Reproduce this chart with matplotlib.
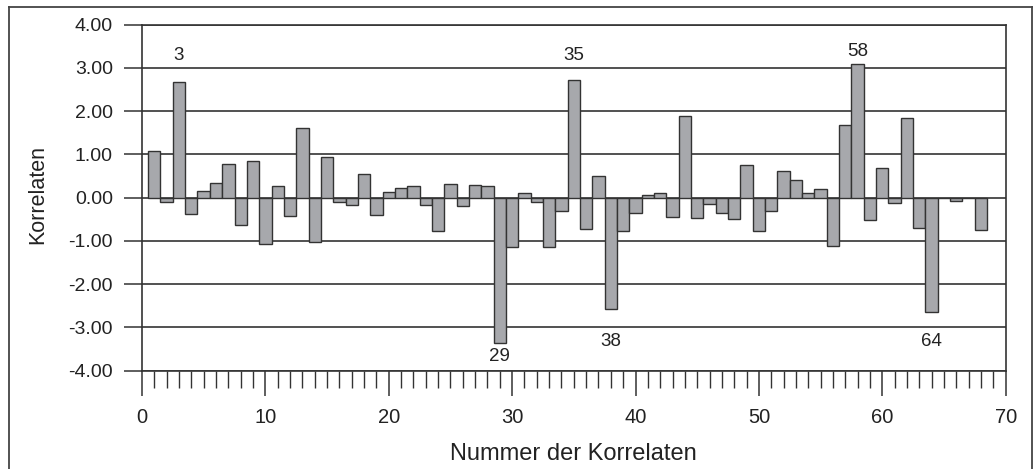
import numpy as np
import matplotlib.pyplot as plt
from matplotlib.lines import Line2D

plt.rcParams["font.family"] = ["Liberation Sans", "DejaVu Sans"]

# Werte der Korrelaten (Nummer 1..68)
nummer = list(range(1, 69))
korrelaten = [
    1.09, -0.11, 2.68, -0.38, 0.16, 0.33, 0.78, -0.64, 0.85, -1.08,
    0.28, -0.42, 1.62, -1.02, 0.95, -0.09, -0.18, 0.55, -0.41, 0.13,
    0.22, 0.27, -0.16, -0.78, 0.32, -0.20, 0.29, 0.27, -3.35, -1.15,
    0.11, -0.11, -1.15, -0.31, 2.72, -0.73, 0.51, -2.58, -0.77, -0.35,
    0.06, 0.12, -0.45, 1.90, -0.47, -0.15, -0.35, -0.50, 0.75, -0.76,
    -0.31, 0.62, 0.42, 0.10, 0.19, -1.11, 1.68, 3.10, -0.51, 0.68,
    -0.12, 1.85, -0.70, -2.65, 0.00, -0.08, 0.00, -0.75,
]

# markierte Korrelaten: (Nummer, y-Position des Textes)
markiert = [(3, 3.29), (35, 3.29), (58, 3.37), (29, -3.68), (38, -3.32), (64, -3.32)]

yticks = np.arange(-4, 4.01, 1)

fig = plt.figure(figsize=(10.34, 4.69), dpi=100)
ax = fig.add_axes([0.1373, 0.2096, 0.9726 - 0.1373, 0.9473 - 0.2096])

# Gitterlinien
for y in yticks:
    ax.axhline(y, color="#333333", lw=1.2, zorder=1)

ax.bar(nummer, korrelaten, width=1.0, color="#a7a8ac",
       edgecolor="#333333", linewidth=1.0, zorder=2)

for n, ytxt in markiert:
    ax.text(n, ytxt, str(n), ha="center", va="center", fontsize=13.5,
            color="#222222")

ax.set_xlim(0, 70)
ax.set_ylim(-4, 4)
ax.set_yticks(yticks)
ax.set_yticklabels([f"{v:.2f}" for v in yticks])
ax.set_xticks(np.arange(0, 71, 10))
ax.set_xticks(np.arange(0, 71, 1), minor=True)

ax.tick_params(axis="y", direction="out", length=13, width=1.1,
               pad=8, labelsize=14, color="#333333", labelcolor="#222222")
ax.tick_params(axis="x", which="major", direction="out", length=18,
               width=1.1, pad=9, labelsize=14.5, color="#333333",
               labelcolor="#222222")
ax.tick_params(axis="x", which="minor", direction="out", length=12,
               width=1.0, color="#333333")

for s in ax.spines.values():
    s.set_color("#333333")
    s.set_linewidth(1.2)

ax.set_ylabel("Korrelaten", fontsize=15.5, color="#222222")
ax.yaxis.set_label_coords(-0.121, 0.51)
ax.yaxis.label.set_va("center")
ax.set_xlabel("Nummer der Korrelaten", fontsize=17, color="#222222")
ax.xaxis.set_label_coords(0.4996, -0.241)
ax.xaxis.label.set_va("center")

# äußerer Rahmen
W, H = 1034, 469
rahmen = [((9, 9), (7, H)), ((9, 1032), (7, 7)), ((1032, 1032), (7, H))]
for xs, ys in rahmen:
    fig.add_artist(Line2D([xs[0] / W, xs[1] / W], [1 - ys[0] / H, 1 - ys[1] / H],
                          color="#444444", lw=1.3))

fig.savefig("out.png", dpi=100)
